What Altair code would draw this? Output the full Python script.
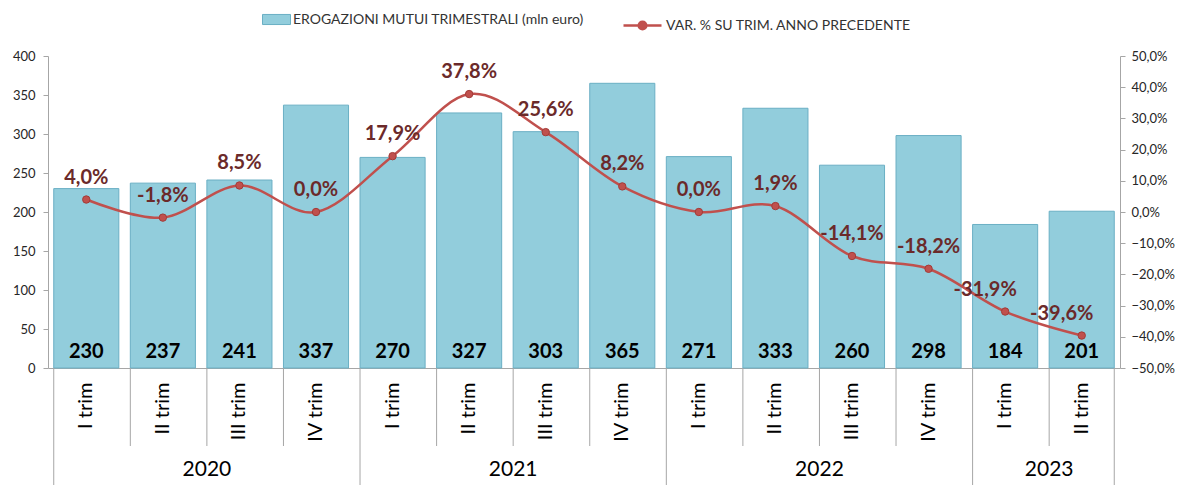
import altair as alt
import pandas as pd

years = ["2020", "2020", "2020", "2020", "2021", "2021", "2021", "2021",
         "2022", "2022", "2022", "2022", "2023", "2023"]
quarters = ["I trim", "II trim", "III trim", "IV trim", "I trim", "II trim", "III trim", "IV trim",
            "I trim", "II trim", "III trim", "IV trim", "I trim", "II trim"]
erogazioni = [230, 237, 241, 337, 270, 327, 303, 365, 271, 333, 260, 298, 184, 201]
variazione = [4.0, -1.8, 8.5, 0.0, 17.9, 37.8, 25.6, 8.2, 0.0, 1.9, -14.1, -18.2, -31.9, -39.6]
year_labels = ["2020", "2021", "2022", "2023"]
left_ticks = [0, 50, 100, 150, 200, 250, 300, 350, 400]
right_ticks = [-50, -40, -30, -20, -10, 0, 10, 20, 30, 40, 50]

BAR_NAME = "EROGAZIONI MUTUI TRIMESTRALI (mln euro)"
LINE_NAME = "VAR. % SU TRIM. ANNO PRECEDENTE"

keys = [f"{y}|{q}" for y, q in zip(years, quarters)]
df = pd.DataFrame({
    "key": keys, "year": years, "quarter": quarters,
    "val": erogazioni, "pct": variazione,
    "idx": list(range(len(keys))),
})
df["pct_label"] = df["pct"].map(lambda v: f"{v:.1f}".replace(".", ",") + "%")
df["bar_series"] = BAR_NAME
df["line_series"] = LINE_NAME
df["zero"] = 0
df["year_start"] = [i == 0 or years[i] != years[i - 1] for i in range(len(years))]

# middle position of each year group
mid_rows = []
for y in year_labels:
    ids = [i for i, yy in enumerate(years) if yy == y]
    n = len(ids)
    mid_rows.append({"year": y, "mid": keys[ids[0] + n // 2]})
ydf = pd.DataFrame(mid_rows)

W, H = 1072, 312
FONT = "Lato"
GRAY = "#A6A6A6"

x_axis = alt.Axis(labelAngle=-90, labelExpr="split(datum.value,'|')[1]",
                  labelFontSize=20, labelFont=FONT, labelColor="#000000",
                  labelPadding=14, ticks=False, domainColor=GRAY,
                  labelAlign="right", labelBaseline="middle", labelOverlap=False)
xscale = alt.Scale(domain=keys, paddingInner=0.15, paddingOuter=0.075)


def xenc(field="key", band=None):
    kw = {}
    if band is not None:
        kw["bandPosition"] = band
    return alt.X(f"{field}:N", scale=xscale, sort=keys, title=None, axis=x_axis, **kw)


left_axis = alt.Axis(values=left_ticks, grid=False, labelFontSize=13,
                     labelFont=FONT, labelColor="#262626", domainColor=GRAY,
                     tickColor=GRAY, tickSize=5, labelPadding=8, labelOverlap=False)
right_axis = alt.Axis(orient="right", values=right_ticks, grid=False,
                      labelExpr="replace(format(datum.value,'.1f'),'.',',')+'%'",
                      labelFontSize=13, labelFont=FONT, labelColor="#262626",
                      domainColor=GRAY, tickColor=GRAY, tickSize=5,
                      labelPadding=6, labelOverlap=False)

bar_scale = alt.Scale(domain=[0, 400])
pct_scale = alt.Scale(domain=[-50, 50])

base = alt.Chart(df)

bars = base.mark_bar(stroke="#6AAFC4", strokeWidth=1).encode(
    x=xenc(),
    y=alt.Y("val:Q", scale=bar_scale, title=None, axis=left_axis),
    fill=alt.Fill("bar_series:N", scale=alt.Scale(domain=[BAR_NAME], range=["#92CDDC"]),
                  legend=alt.Legend(title=None, orient="none", legendX=214, legendY=-51,
                                    symbolType="M-1,-0.36H1V0.36H-1Z", symbolSize=784,
                                    labelLimit=0, labelOffset=2,
                                    symbolStrokeColor="#6AAFC4", symbolStrokeWidth=1,
                                    labelFontSize=14, labelFont=FONT, labelColor="#333333")),
)

bar_text = base.mark_text(fontSize=20, fontWeight="bold", font=FONT, color="#000000",
                          baseline="alphabetic", dy=-10).encode(
    x=xenc(),
    y=alt.Y("zero:Q", scale=bar_scale, title=None, axis=left_axis),
    text="val:Q",
)

# category separators under the axis
sep_short = base.mark_rule(color=GRAY, strokeWidth=1).encode(
    x=xenc(band=0), y=alt.value(H), y2=alt.value(H + 78),
).transform_filter("!datum.year_start")

sep_long = base.mark_rule(color=GRAY, strokeWidth=1).encode(
    x=xenc(band=0), y=alt.value(H), y2=alt.value(H + 120),
).transform_filter("datum.year_start")

sep_end = base.mark_rule(color=GRAY, strokeWidth=1).encode(
    x=xenc(band=1), y=alt.value(H), y2=alt.value(H + 120),
).transform_filter(f"datum.idx == {len(keys) - 1}")

year_text = alt.Chart(ydf).mark_text(fontSize=21, font=FONT, color="#000000",
                                     baseline="middle", dy=102).encode(
    x=xenc("mid", band=0), y=alt.value(H), text="year:N",
)

left = alt.layer(bars, bar_text, sep_short, sep_long, sep_end, year_text)

y_pct = alt.Y("pct:Q", scale=pct_scale, title=None, axis=right_axis)

line = base.mark_line(interpolate="cardinal", strokeWidth=2.5).encode(
    x=xenc(),
    y=y_pct,
    stroke=alt.Stroke("line_series:N", scale=alt.Scale(domain=[LINE_NAME], range=["#C0504D"]),
                      legend=alt.Legend(title=None, orient="none", legendX=574, legendY=-51,
                                        symbolType="M-1,0H-0.2M0.2,0H1M-0.2,0A0.2,0.2 0 1,0 0.2,0A0.2,0.2 0 1,0 -0.2,0",
                                        symbolSize=1444, symbolStrokeWidth=2.5, labelLimit=0,
                                        symbolFillColor="#C0504D", labelOffset=3,
                                        labelFontSize=14, labelFont=FONT, labelColor="#333333")),
)

points = base.mark_point(filled=True, size=55, color="#C0504D", stroke="#A33B38",
                         strokeWidth=1, opacity=1).encode(x=xenc(), y=y_pct)

pct_text_main = base.mark_text(fontSize=20, fontWeight="bold", font=FONT, color="#6B2A2A",
                               dy=-22).encode(
    x=xenc(), y=y_pct, text="pct_label:N",
).transform_filter("datum.idx < 12")

pct_text_shift = base.mark_text(fontSize=20, fontWeight="bold", font=FONT, color="#6B2A2A",
                                dy=-22, dx=-20).encode(
    x=xenc(), y=y_pct, text="pct_label:N",
).transform_filter("datum.idx >= 12")

right = alt.layer(line, points, pct_text_main, pct_text_shift)

chart = alt.layer(left, right).resolve_scale(
    y="independent", fill="independent", stroke="independent"
).properties(
    width=W, height=H,
    autosize=alt.AutoSizeParams(type="none"),
    padding={"left": 48, "top": 56, "right": 61, "bottom": 117},
    background="#FFFFFF",
).configure_view(stroke=None)

chart.save("out.html", embed_options={"renderer": "svg", "actions": False})
